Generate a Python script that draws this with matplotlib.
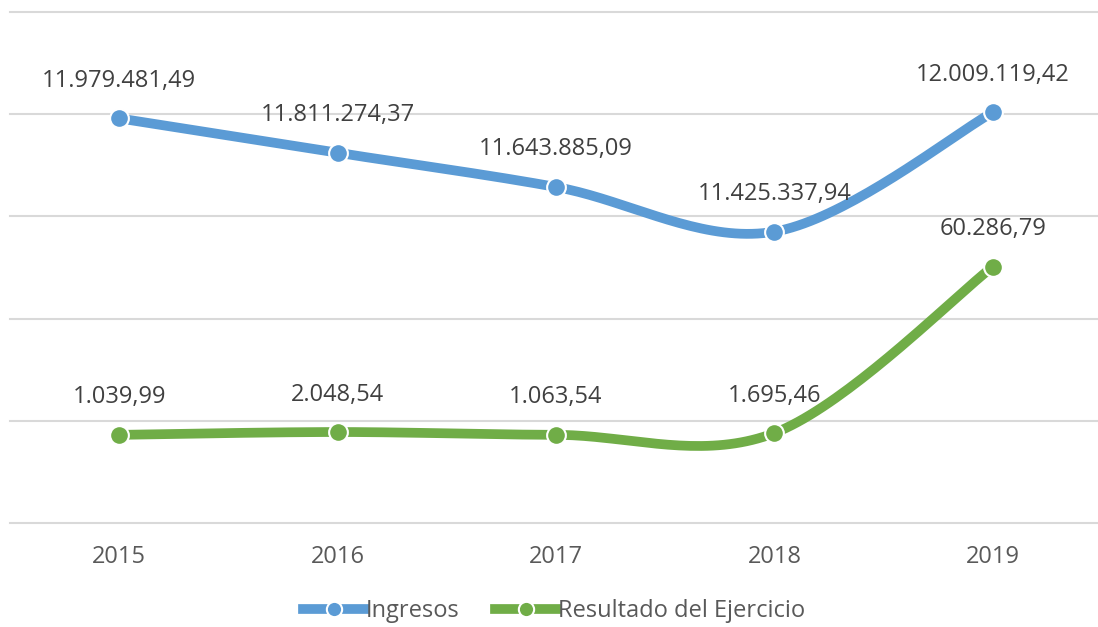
import numpy as np
import matplotlib.pyplot as plt
from matplotlib.lines import Line2D

plt.rcParams['font.family'] = ['Open Sans', 'DejaVu Sans']

anios = ['2015', '2016', '2017', '2018', '2019']
ingresos = [11979481.49, 11811274.37, 11643885.09, 11425337.94, 12009119.42]
resultado = [1039.99, 2048.54, 1063.54, 1695.46, 60286.79]
etiquetas_ing = ['11.979.481,49', '11.811.274,37', '11.643.885,09', '11.425.337,94', '12.009.119,42']
etiquetas_res = ['1.039,99', '2.048,54', '1.063,54', '1.695,46', '60.286,79']

AZUL = '#5B9BD5'
VERDE = '#70AD47'
TEXTO = '#404040'


def suavizar(x, y, n=40):
    # curva tipo Catmull-Rom con tramos Bezier cubicos
    p = np.column_stack([x, y]).astype(float)
    p = np.vstack([p[0], p, p[-1]])
    t = np.linspace(0, 1, n)[:, None]
    tramos = []
    for i in range(1, len(p) - 2):
        p0, p3 = p[i], p[i + 1]
        c1 = p0 + (p[i + 1] - p[i - 1]) / 6
        c2 = p3 - (p[i + 2] - p[i]) / 6
        b = ((1 - t) ** 3) * p0 + 3 * ((1 - t) ** 2) * t * c1 + 3 * (1 - t) * t ** 2 * c2 + t ** 3 * p3
        tramos.append(b)
    c = np.vstack(tramos)
    return c[:, 0], c[:, 1]


fig = plt.figure(figsize=(10.98, 6.27), dpi=100)
ax = fig.add_axes([10 / 1098, 104 / 627, 1092 / 1098, 511 / 627])
ax2 = ax.twinx()

x = np.arange(len(anios))
ax.set_xlim(-0.5, 4.5)
ax.set_ylim(10e6, 12.5e6)
ax2.set_ylim(-30000, 150000)

for v in np.arange(10e6, 12.6e6, 0.5e6):
    ax.axhline(v, color='#D9D9D9', lw=1.5, zorder=0, clip_on=False)

xs, ys = suavizar(x, ingresos)
ax.plot(xs, ys, color=AZUL, lw=7, solid_capstyle='round', zorder=2)
ax.plot(x, ingresos, 'o', ms=13.5, color=AZUL, mec='white', mew=1.5, zorder=3)
for xi, yi, t in zip(x, ingresos, etiquetas_ing):
    ax.annotate(t, (xi, yi), xytext=(0, 27), textcoords='offset points',
                ha='center', va='center', fontsize=17, color=TEXTO)

xs, ys = suavizar(x, resultado)
ax2.plot(xs, ys, color=VERDE, lw=7, solid_capstyle='round', zorder=2)
ax2.plot(x, resultado, 'o', ms=13.5, color=VERDE, mec='white', mew=1.5, zorder=3)
for xi, yi, t in zip(x, resultado, etiquetas_res):
    ax2.annotate(t, (xi, yi), xytext=(0, 27), textcoords='offset points',
                 ha='center', va='center', fontsize=17, color=TEXTO)

ax.set_xticks(x)
ax.set_xticklabels(anios, fontsize=17, color='#595959')
ax.tick_params(axis='x', length=0, pad=16)
ax.set_yticks([])
ax2.set_yticks([])
for a in (ax, ax2):
    for s in a.spines.values():
        s.set_visible(False)
    a.patch.set_visible(False)

handles = [
    Line2D([], [], color=AZUL, lw=7, marker='o', ms=11, mec='white', mew=1.5),
    Line2D([], [], color=VERDE, lw=7, marker='o', ms=11, mec='white', mew=1.5),
]
fig.legend(handles, ['Ingresos', 'Resultado del Ejercicio'], loc='center',
           bbox_to_anchor=(554 / 1098, 1 - 611 / 627), ncol=2, frameon=False,
           fontsize=17, handlelength=2.6, handletextpad=0.05, columnspacing=1.5,
           labelcolor='#595959')

fig.savefig('out.png', dpi=100)
